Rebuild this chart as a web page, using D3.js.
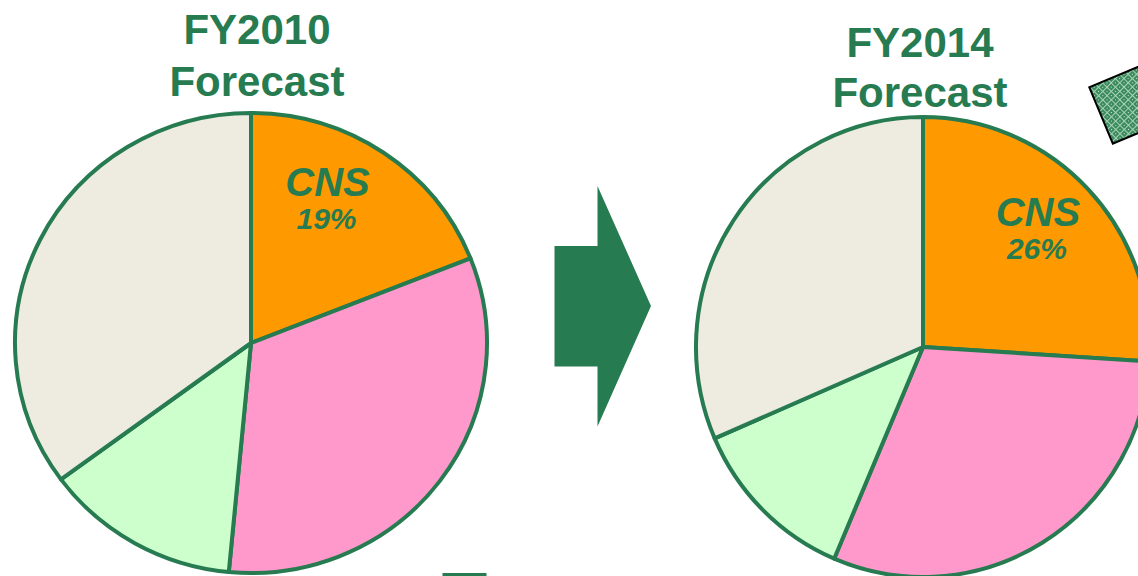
<!DOCTYPE html>
<html>
<head>
<meta charset="utf-8">
<script src="https://cdn.jsdelivr.net/npm/d3@7/dist/d3.min.js"></script>
<style>
  html, body { margin: 0; padding: 0; background: #ffffff; }
  svg { display: block; }
</style>
</head>
<body>
<svg id="chart" width="1138" height="576"></svg>
<script>
// Forecast share of each segment, clockwise from 12 o'clock
const segments = ["CNS", "segmentB", "segmentC", "segmentD"];
const fy2010Shares = [19, 32.5, 13.4, 35.1];
const fy2014Shares = [26, 30.4, 12.1, 31.5];
const panelYears = ["FY2010", "FY2014"];
const panelSubtitle = "Forecast";
const labelledSegment = "CNS";

const green = "#277b50";
const segmentColor = d3.scaleOrdinal()
  .domain(segments)
  .range(["#ff9900", "#ff99cc", "#ccffcc", "#eeebe0"]);

const svg = d3.select("#chart");

// Tile pattern for the decorative square at the top right
const defs = svg.append("defs");
const pat = defs.append("pattern")
  .attr("id", "plaid").attr("patternUnits", "userSpaceOnUse")
  .attr("width", 6).attr("height", 6)
  .attr("patternTransform", "rotate(-22.7)");
pat.append("rect").attr("width", 6).attr("height", 6).attr("fill", "#3b8a5e");
pat.append("rect").attr("x", 0).attr("y", 0).attr("width", 6).attr("height", 1).attr("fill", "#a9d4b6");
pat.append("rect").attr("x", 0).attr("y", 0).attr("width", 1).attr("height", 6).attr("fill", "#a9d4b6");
pat.append("rect").attr("x", 3).attr("y", 3).attr("width", 1).attr("height", 1).attr("fill", "#cfe8d6");

const baseR = 230;
const pie = d3.pie().sort(null).value(d => d.value);
const arc = d3.arc().innerRadius(0).outerRadius(baseR);
const labelArc = d3.arc().innerRadius(150).outerRadius(150);

const panels = [
  { year: panelYears[0], shares: fy2010Shares, cx: 251, cy: 343, rx: 236, ry: 230,
    titleX: 257, titleY: 44, lineGap: 52, labelDx: -10, labelDy: -7 },
  { year: panelYears[1], shares: fy2014Shares, cx: 923, cy: 347, rx: 227, ry: 230,
    titleX: 920, titleY: 57, lineGap: 50, labelDx: 7, labelDy: -2 }
];

panels.forEach(p => {
  const sx = p.rx / baseR, sy = p.ry / baseR;
  const data = segments.map((s, i) => ({ key: s, value: p.shares[i] }));
  const arcs = pie(data);

  const g = svg.append("g")
    .attr("transform", `translate(${p.cx},${p.cy}) scale(${sx},${sy})`);

  g.selectAll("path")
    .data(arcs)
    .join("path")
    .attr("d", arc)
    .attr("fill", d => segmentColor(d.data.key))
    .attr("stroke", green)
    .attr("stroke-width", 4)
    .attr("stroke-linejoin", "round")
    .attr("vector-effect", "non-scaling-stroke");

  // Segment name and share inside the labelled slice
  arcs.filter(d => d.data.key === labelledSegment).forEach(d => {
    const [lx, ly] = labelArc.centroid(d);
    const x = p.cx + lx * sx + p.labelDx, y = p.cy + ly * sy + p.labelDy;
    svg.append("text")
      .attr("x", x).attr("y", y - 16)
      .attr("text-anchor", "middle")
      .attr("font-family", "Liberation Sans, Arial, sans-serif")
      .attr("font-weight", "bold").attr("font-style", "italic")
      .attr("font-size", 40).attr("fill", green)
      .text(d.data.key);
    svg.append("text")
      .attr("x", x - 1).attr("y", y + 17)
      .attr("text-anchor", "middle")
      .attr("font-family", "Liberation Sans, Arial, sans-serif")
      .attr("font-weight", "bold").attr("font-style", "italic")
      .attr("font-size", 30).attr("fill", green)
      .text(`${d.data.value}%`);
  });

  // Panel title
  const t = svg.append("text")
    .attr("text-anchor", "middle")
    .attr("font-family", "Liberation Sans, Arial, sans-serif")
    .attr("font-weight", "bold").attr("font-size", 42)
    .attr("fill", green);
  t.append("tspan").attr("x", p.titleX).attr("y", p.titleY).text(p.year);
  t.append("tspan").attr("x", p.titleX).attr("y", p.titleY + p.lineGap).text(panelSubtitle);
});

// Block arrow between the two pies
const arrow = d3.path();
arrow.moveTo(554.5, 246);
arrow.lineTo(597.5, 246);
arrow.lineTo(597.5, 186);
arrow.lineTo(651, 306);
arrow.lineTo(597.5, 426.5);
arrow.lineTo(597.5, 366.5);
arrow.lineTo(554.5, 366.5);
arrow.closePath();
svg.append("path").attr("d", arrow.toString()).attr("fill", green);

// Short bar at the bottom edge
svg.append("rect")
  .attr("x", 442.5).attr("y", 573).attr("width", 44).attr("height", 6)
  .attr("fill", green);

// Patterned tile at the top right corner
svg.append("rect")
  .attr("x", 0).attr("y", 0).attr("width", 62).attr("height", 61)
  .attr("transform", "translate(1089.3,87.3) rotate(-22.7)")
  .attr("fill", "url(#plaid)")
  .attr("stroke", "#000").attr("stroke-width", 2);
</script>
</body>
</html>
